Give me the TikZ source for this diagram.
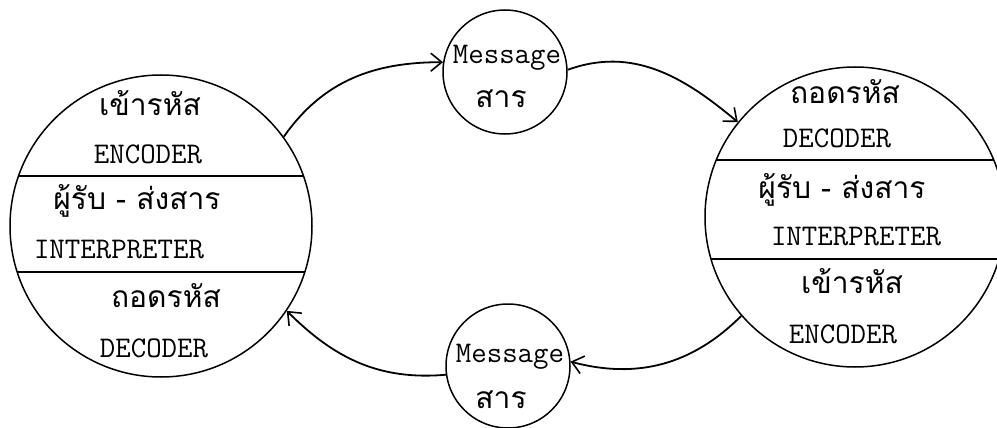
\documentclass[tikz,border=0pt]{standalone}
\usepackage{fontspec}
\newfontfamily\thai[Script=Thai]{Loma}
\usetikzlibrary{arrows.meta}
\begin{document}
\begin{tikzpicture}[x=1pt,y=-1pt,
  ring/.style={draw, line width=1.5pt, circle, inner sep=0pt},
  sepline/.style={line width=1.7pt},
  flow/.style={line width=1.8pt, -{Straight Barb[length=11pt,width=18pt,line width=1.6pt]}},
  en/.style={font=\fontsize{30}{30}\selectfont\ttfamily, inner sep=0pt, anchor=base},
  th/.style={font=\fontsize{30}{30}\selectfont\thai, inner sep=0pt, anchor=base}]
\useasboundingbox (0,0) rectangle (997,428);
% main rings
\node[ring, minimum size=302pt] (L) at (161,226) {};
\node[ring, minimum size=300pt] (R) at (855,217) {};
\node[ring, minimum size=124pt] (M1) at (505,72) {};
\node[ring, minimum size=124pt] (M2) at (508,366) {};
% separators
\draw[sepline] (18.5,176) -- (303.5,176);
\draw[sepline] (17.2,272) -- (304.8,272);
\draw[sepline] (716,160) -- (994,160);
\draw[sepline] (711,259) -- (999,259);
% left texts
\node[th] (l1) at (150,115) {เข้ารหัส};
\node[en] (l2) at (148,163) {ENCODER};
\node[th] (l3) at (137,209) {ผู้รับ - ส่งสาร};
\node[en] (l4) at (119,258) {INTERPRETER};
\node[th] (l5) at (166,307) {ถอดรหัส};
\node[en] (l6) at (154,357) {DECODER};
% right texts
\node[th] (r1) at (845,103) {ถอดรหัส};
\node[en] (r2) at (837,147) {DECODER};
\node[th] (r3) at (842,198) {ผู้รับ - ส่งสาร};
\node[en] (r4) at (856,245) {INTERPRETER};
\node[th] (r5) at (852,293) {เข้ารหัส};
\node[en] (r6) at (843,343) {ENCODER};
% message texts
\node[en] (m1a) at (507,64) {Message};
\node[th] (m1b) at (501,107) {สาร};
\node[en] (m2a) at (510,362) {Message};
\node[th] (m2b) at (501,408) {สาร};
% flows
\draw[flow] (L.36.7) to[out=55,in=180] (M1.171);
\draw[flow] (M1.2) to[out=20,in=140] (R.141);
\draw[flow] (R.221) to[out=-135,in=-15] (M2.4);
\draw[flow] (M2.188) to[out=185,in=-45] (L.-34.7);
\end{tikzpicture}
\end{document}
